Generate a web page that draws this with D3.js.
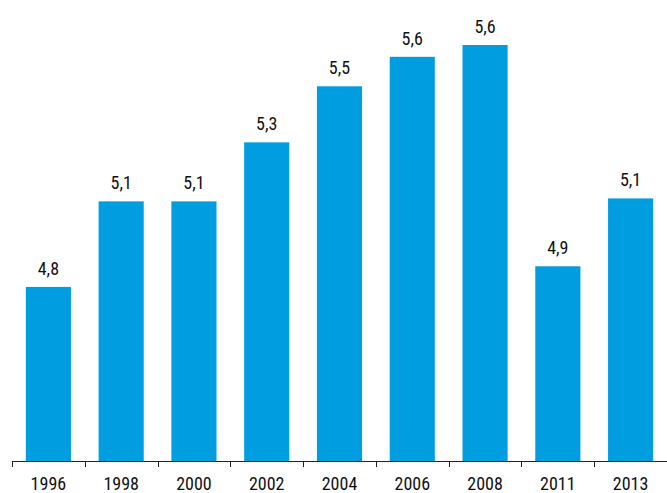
<!DOCTYPE html>
<html><head><meta charset="utf-8">
<script src="https://cdn.jsdelivr.net/npm/d3@7"></script>
<style>body{margin:0;background:#fff}text{font-family:"Liberation Sans Narrow","Roboto Condensed","Arial Narrow",sans-serif;font-size:18px;fill:#111}</style>
</head><body><svg id="c" width="667" height="493"></svg>
<script>
const years=["1996","1998","2000","2002","2004","2006","2008","2011","2013"];
const values=[4.80,5.09,5.09,5.29,5.48,5.58,5.62,4.87,5.10];
const labels=["4,8","5,1","5,1","5,3","5,5","5,6","5,6","4,9","5,1"];
const svg=d3.select("#c");
const x=d3.scaleBand().domain(years).range([12,667]).paddingInner(0.38).paddingOuter(0.19);
const y=d3.scaleLinear().domain([4.21,5.62]).range([461,45]);
svg.selectAll("rect").data(values).join("rect")
 .attr("x",(d,i)=>x(years[i])).attr("width",x.bandwidth())
 .attr("y",d=>y(d)).attr("height",d=>461-y(d)).attr("fill","#009EE0");
svg.selectAll(".lbl").data(values).join("text").attr("class","lbl")
 .attr("x",(d,i)=>x(years[i])+x.bandwidth()/2).attr("y",d=>y(d)-12)
 .attr("text-anchor","middle").text((d,i)=>labels[i]);
const step=x.step();
const g=svg.append("g");
g.append("line").attr("x1",12).attr("x2",667).attr("y1",461.5).attr("y2",461.5).attr("stroke","#222");
d3.range(years.length+1).forEach(i=>{const xx=Math.round(12+i*step)+0.5;
 g.append("line").attr("x1",xx).attr("x2",xx).attr("y1",461).attr("y2",467).attr("stroke","#222");});
years.forEach(yr=>g.append("text").attr("x",x(yr)+x.bandwidth()/2).attr("y",490).attr("text-anchor","middle").text(yr));
</script></body></html>
